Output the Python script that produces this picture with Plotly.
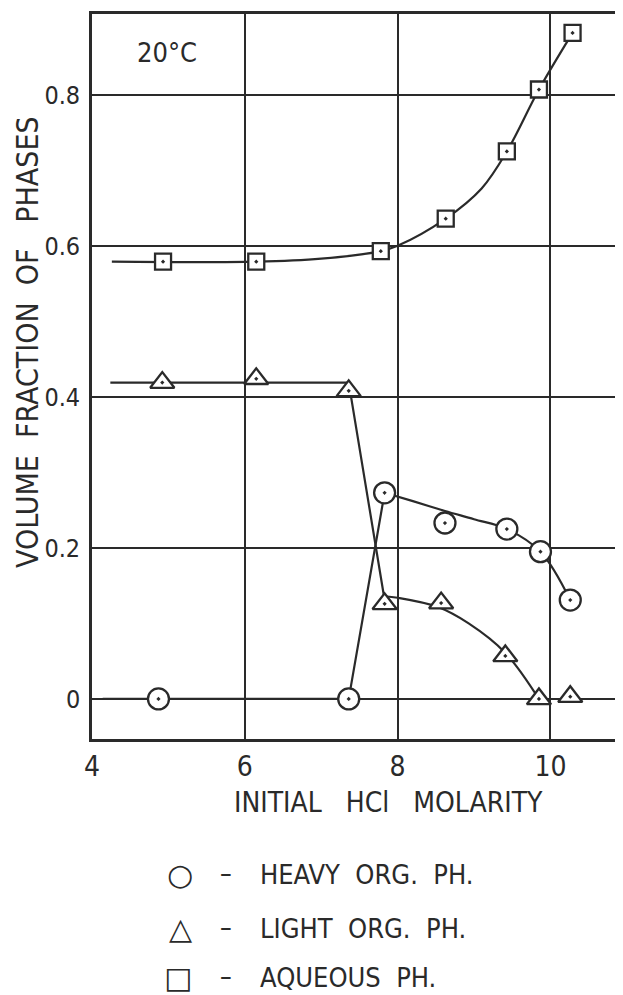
import plotly.graph_objects as go

# ---- data ----
x_tick_vals = [4, 6, 8, 10]
x_tick_text = ["4", "6", "8", "10"]
y_tick_vals = [0, 0.2, 0.4, 0.6, 0.8]
y_tick_text = ["0", "0.2", "0.4", "0.6", "0.8"]

# measured points
heavy_x = [4.87, 7.36, 7.83, 8.62, 9.43, 9.87, 10.26]
heavy_y = [0.0, 0.0, 0.273, 0.233, 0.225, 0.195, 0.131]
light_x = [4.92, 6.15, 7.36, 7.83, 8.57, 9.41, 9.85, 10.26]
light_y = [0.419, 0.424, 0.408, 0.126, 0.127, 0.057, 0.0, 0.003]
aq_x = [4.93, 6.15, 7.78, 8.63, 9.43, 9.85, 10.29]
aq_y = [0.579, 0.579, 0.593, 0.636, 0.725, 0.807, 0.882]

# hand-drawn guide lines
heavy_line_x = [4.14, 7.36, 7.83]
heavy_line_y = [0.0, 0.0, 0.273]
heavy_curve_x = [7.83, 8.2, 8.62, 9.0, 9.43, 9.87, 10.26]
heavy_curve_y = [0.273, 0.262, 0.249, 0.238, 0.225, 0.195, 0.131]
light_line_x = [4.24, 7.36, 7.83]
light_line_y = [0.419, 0.419, 0.131]
light_curve_x = [7.83, 8.0, 8.52, 8.93, 9.41, 9.85]
light_curve_y = [0.136, 0.134, 0.122, 0.100, 0.061, 0.0]
aq_curve_x = [4.26, 6.15, 7.0, 7.78, 8.0, 8.63, 9.1, 9.43, 9.85, 10.29]
aq_curve_y = [0.579, 0.579, 0.583, 0.593, 0.600, 0.636, 0.676, 0.725, 0.807, 0.882]

legend_symbols = ["○", "△", "□"]
legend_labels = ["HEAVY  ORG.  PH.", "LIGHT  ORG.  PH.", "AQUEOUS  PH."]

INK = "#2a2a2a"
FONT = "DejaVu Sans Condensed, Liberation Sans Narrow, Roboto Condensed, DejaVu Sans, sans-serif"

fig = go.Figure()

def guide(x, y, shape="linear"):
    fig.add_trace(go.Scatter(x=x, y=y, mode="lines", showlegend=False, hoverinfo="skip",
                             line=dict(color=INK, width=2.2, shape=shape, smoothing=1.0)))

guide(heavy_line_x, heavy_line_y)
guide(heavy_curve_x, heavy_curve_y, "spline")
guide(light_line_x, light_line_y)
guide(light_curve_x, light_curve_y, "spline")
guide(aq_curve_x, aq_curve_y, "spline")

def pts(x, y, symbol, size, name):
    fig.add_trace(go.Scatter(x=x, y=y, mode="markers", name=name, showlegend=False,
                             marker=dict(symbol=symbol, size=size, color="white",
                                         line=dict(color=INK, width=2.3))))

pts(heavy_x, heavy_y, "circle-dot", 21, "HEAVY ORG. PH.")
pts(light_x, light_y, "triangle-up-dot", 21, "LIGHT ORG. PH.")
pts(aq_x, aq_y, "square-dot", 16, "AQUEOUS PH.")

# page has an 8px body margin; plot area on page: x 92.., y 14..739
PLOT_W = 539.0
PLOT_H = 725.0

def px(x):
    return (x - 92) / PLOT_W

def py(y):
    return (739 - y) / PLOT_H

def note(text, x, y, size, family=FONT, angle=0, xanchor="center"):
    return dict(text=text, x=px(x), y=py(y), xref="paper", yref="paper", showarrow=False,
                xanchor=xanchor, yanchor="middle", textangle=angle,
                font=dict(size=size, color=INK, family=family))

ann = [
    note("20°C", 167, 52, 27),
    note("INITIAL   HCl   MOLARITY", 388, 802, 28),
    note("VOLUME  FRACTION  OF   PHASES", 27, 342, 30, angle=-90),
]

legend_rows = [874, 928, 977]
legend_sym_x = [180, 180, 178]
for sym, lab, ry, sx in zip(legend_symbols, legend_labels, legend_rows, legend_sym_x):
    ann.append(note(sym, sx, ry, 30, family="DejaVu Sans"))
    ann.append(note("–", 226, ry - 1, 26))
    ann.append(note(lab, 258, ry, 27, xanchor="left"))

fig.update_layout(
    width=623, height=995,
    margin=dict(l=84, r=0, t=6, b=995 - 6 - int(PLOT_H)),
    plot_bgcolor="white", paper_bgcolor="white",
    font=dict(family=FONT, color=INK),
    annotations=ann,
)
fig.update_xaxes(range=[4, 4 + PLOT_W / 76.4], tickvals=x_tick_vals, ticktext=x_tick_text,
                 showgrid=True, gridcolor=INK, gridwidth=1.6, zeroline=False,
                 showline=True, linecolor=INK, linewidth=2.6, mirror=True,
                 ticks="", ticklabelstandoff=1, tickfont=dict(size=28, color=INK, family=FONT))
fig.update_yaxes(range=[-0.053, 0.907], tickvals=y_tick_vals, ticktext=y_tick_text,
                 showgrid=True, gridcolor=INK, gridwidth=1.6, zeroline=False,
                 showline=True, linecolor=INK, linewidth=2.6,
                 ticks="", ticklabelstandoff=4, tickfont=dict(size=25, color=INK, family=FONT))

fig.write_html("out.html")
